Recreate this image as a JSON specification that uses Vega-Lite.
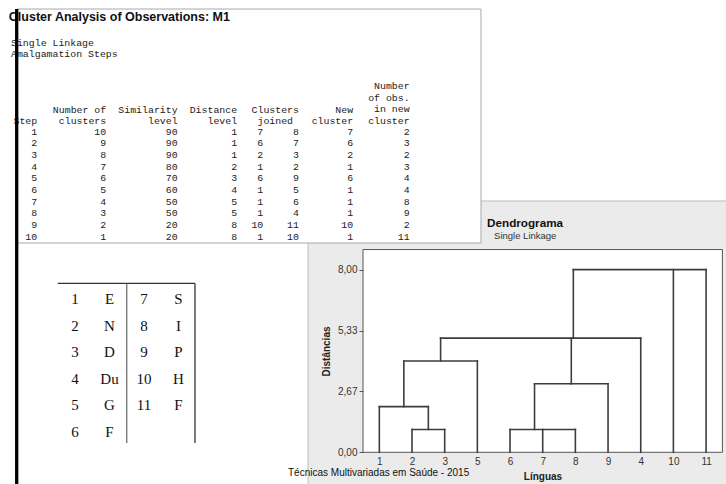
{
  "$schema": "https://vega.github.io/schema/vega-lite/v6.json",
  "width": 726,
  "height": 484,
  "autosize": {"type": "none"},
  "padding": 0,
  "background": "white",
  "config": {"view": {"stroke": null}},
  "data": {"values": [{}]},
  "datasets": {
    "steps": [
      {"step": 1, "ncl": 10, "sim": 90, "dist": 1, "j1": 7, "j2": 8, "newc": 7, "nobs": 2},
      {"step": 2, "ncl": 9, "sim": 90, "dist": 1, "j1": 6, "j2": 7, "newc": 6, "nobs": 3},
      {"step": 3, "ncl": 8, "sim": 90, "dist": 1, "j1": 2, "j2": 3, "newc": 2, "nobs": 2},
      {"step": 4, "ncl": 7, "sim": 80, "dist": 2, "j1": 1, "j2": 2, "newc": 1, "nobs": 3},
      {"step": 5, "ncl": 6, "sim": 70, "dist": 3, "j1": 6, "j2": 9, "newc": 6, "nobs": 4},
      {"step": 6, "ncl": 5, "sim": 60, "dist": 4, "j1": 1, "j2": 5, "newc": 1, "nobs": 4},
      {"step": 7, "ncl": 4, "sim": 50, "dist": 5, "j1": 1, "j2": 6, "newc": 1, "nobs": 8},
      {"step": 8, "ncl": 3, "sim": 50, "dist": 5, "j1": 1, "j2": 4, "newc": 1, "nobs": 9},
      {"step": 9, "ncl": 2, "sim": 20, "dist": 8, "j1": 10, "j2": 11, "newc": 10, "nobs": 2},
      {"step": 10, "ncl": 1, "sim": 20, "dist": 8, "j1": 1, "j2": 10, "newc": 1, "nobs": 11}
    ],
    "langs": [
      {"num": 1, "lang": "E", "row": 1, "side": "L"},
      {"num": 2, "lang": "N", "row": 2, "side": "L"},
      {"num": 3, "lang": "D", "row": 3, "side": "L"},
      {"num": 4, "lang": "Du", "row": 4, "side": "L"},
      {"num": 5, "lang": "G", "row": 5, "side": "L"},
      {"num": 6, "lang": "F", "row": 6, "side": "L"},
      {"num": 7, "lang": "S", "row": 1, "side": "R"},
      {"num": 8, "lang": "I", "row": 2, "side": "R"},
      {"num": 9, "lang": "P", "row": 3, "side": "R"},
      {"num": 10, "lang": "H", "row": 4, "side": "R"},
      {"num": 11, "lang": "F", "row": 5, "side": "R"}
    ],
    "links": [
      {"x1": 1, "x2": 1, "y1": 0, "y2": 2},
      {"x1": 2, "x2": 2, "y1": 0, "y2": 1},
      {"x1": 3, "x2": 3, "y1": 0, "y2": 1},
      {"x1": 2.5, "x2": 2.5, "y1": 1, "y2": 2},
      {"x1": 1.75, "x2": 1.75, "y1": 2, "y2": 4},
      {"x1": 4, "x2": 4, "y1": 0, "y2": 4},
      {"x1": 2.875, "x2": 2.875, "y1": 4, "y2": 5},
      {"x1": 5, "x2": 5, "y1": 0, "y2": 1},
      {"x1": 6, "x2": 6, "y1": 0, "y2": 1},
      {"x1": 7, "x2": 7, "y1": 0, "y2": 1},
      {"x1": 5.75, "x2": 5.75, "y1": 1, "y2": 3},
      {"x1": 8, "x2": 8, "y1": 0, "y2": 3},
      {"x1": 6.875, "x2": 6.875, "y1": 3, "y2": 5},
      {"x1": 9, "x2": 9, "y1": 0, "y2": 5},
      {"x1": 6.9375, "x2": 6.9375, "y1": 5, "y2": 8},
      {"x1": 10, "x2": 10, "y1": 0, "y2": 8},
      {"x1": 11, "x2": 11, "y1": 0, "y2": 8},
      {"x1": 2, "x2": 3, "y1": 1, "y2": 1},
      {"x1": 1, "x2": 2.5, "y1": 2, "y2": 2},
      {"x1": 1.75, "x2": 4, "y1": 4, "y2": 4},
      {"x1": 5, "x2": 7, "y1": 1, "y2": 1},
      {"x1": 5.75, "x2": 8, "y1": 3, "y2": 3},
      {"x1": 2.875, "x2": 9, "y1": 5, "y2": 5},
      {"x1": 6.9375, "x2": 11, "y1": 8, "y2": 8}
    ]
  },
  "layer": [
    {
      "mark": {"type": "rect", "fill": "#ebebeb", "stroke": "#bdbdbd", "strokeWidth": 1},
      "encoding": {
        "x": {
          "datum": -1.182, "type": "quantitative",
          "scale": {"domain": [-10.61, 11.61], "nice": false, "zero": false},
          "axis": {
            "orient": "bottom", "offset": -31.7, "values": [1, 2, 3, 4, 5, 6, 7, 8, 9, 10, 11],
            "labelExpr": "['', '1', '2', '3', '5', '6', '7', '8', '9', '4', '10', '11'][datum.value]",
            "domain": false, "ticks": false, "tickSize": 0, "grid": false,
            "labelPadding": 4, "labelFont": "Liberation Sans", "labelFontSize": 10, "labelColor": "#333",
            "labelFlush": false, "labelOverlap": false,
            "title": "Línguas", "titleFont": "Liberation Sans", "titleFontSize": 10, "titleFontWeight": "bold", "titleColor": "#222",
            "titleX": 542.5, "titleY": 24, "titleAlign": "center", "titleBaseline": "middle", "titlePadding": 0, "zindex": 1
          }
        },
        "x2": {"datum": 11.8},
        "y": {
          "datum": -1.6, "type": "quantitative",
          "scale": {"domain": [-1.389, 19.81], "nice": false, "zero": false},
          "axis": {
            "orient": "left", "offset": -363, "values": [0, 2.6667, 5.3333, 8],
            "labelExpr": "replace(format(datum.value, '.2f'), '.', ',')",
            "domain": false, "ticks": true, "tickSize": 4, "tickColor": "#555", "grid": false,
            "labelPadding": 2, "labelFont": "Liberation Sans", "labelFontSize": 10, "labelColor": "#333",
            "labelFlush": false, "labelOverlap": false,
            "title": "Distâncias", "titleFont": "Liberation Sans", "titleFontSize": 10, "titleFontWeight": "bold", "titleColor": "#222",
            "titleX": -36.5, "titleY": 351, "titleAngle": -90, "titleAlign": "center", "titleBaseline": "middle", "titlePadding": 0, "zindex": 1
          }
        },
        "y2": {"datum": 11.007}
      }
    },
    {
      "layer": [
        {
          "mark": {"type": "rect", "fill": "white", "stroke": "#a8a8a8", "strokeWidth": 1},
          "encoding": {
            "x": {"datum": 1.008, "type": "quantitative", "scale": {"domain": [-1.849, 120.168], "nice": false, "zero": false}, "axis": null},
            "x2": {"datum": 78.99},
            "y": {"datum": -9.51, "type": "quantitative", "scale": {"domain": [-10.283, 31.19], "nice": false, "zero": false, "reverse": true}, "axis": null},
            "y2": {"datum": 10.54}
          }
        },
        {
          "mark": {"type": "text", "align": "left", "baseline": "middle", "font": "Liberation Sans", "fontWeight": "bold", "fontSize": 12.5, "color": "#111"},
          "encoding": {
            "x": {"datum": -0.37, "type": "quantitative", "scale": {"domain": [-1.849, 120.168], "nice": false, "zero": false}, "axis": null},
            "y": {"datum": -8.85, "type": "quantitative", "scale": {"domain": [-10.283, 31.19], "nice": false, "zero": false, "reverse": true}, "axis": null},
            "text": {"value": "Cluster Analysis of Observations: M1"}
          }
        },
        {
          "mark": {"type": "text", "align": "left", "baseline": "middle", "font": "Liberation Mono", "fontSize": 9.9, "color": "#222", "lineHeight": 11.5},
          "encoding": {
            "x": {"datum": 0, "type": "quantitative", "scale": {"domain": [-1.849, 120.168], "nice": false, "zero": false}, "axis": null},
            "y": {"datum": -6.63, "type": "quantitative", "scale": {"domain": [-10.283, 31.19], "nice": false, "zero": false, "reverse": true}, "axis": null},
            "text": {"value": ["Single Linkage", "Amalgamation Steps"]}
          }
        },
        {
          "mark": {"type": "text", "align": "right", "baseline": "middle", "font": "Liberation Mono", "fontSize": 9.9, "color": "#222"},
          "encoding": {
            "x": {"datum": 4.4, "type": "quantitative", "scale": {"domain": [-1.849, 120.168], "nice": false, "zero": false}, "axis": null},
            "y": {"datum": 0.1, "type": "quantitative", "scale": {"domain": [-10.283, 31.19], "nice": false, "zero": false, "reverse": true}, "axis": null},
            "text": {"value": "Step"}
          }
        },
        {
          "mark": {"type": "text", "align": "right", "baseline": "middle", "font": "Liberation Mono", "fontSize": 9.9, "color": "#222", "lineHeight": 11.67},
          "encoding": {
            "x": {"datum": 16, "type": "quantitative", "scale": {"domain": [-1.849, 120.168], "nice": false, "zero": false}, "axis": null},
            "y": {"datum": -0.9, "type": "quantitative", "scale": {"domain": [-10.283, 31.19], "nice": false, "zero": false, "reverse": true}, "axis": null},
            "text": {"value": ["Number of", "clusters"]}
          }
        },
        {
          "mark": {"type": "text", "align": "right", "baseline": "middle", "font": "Liberation Mono", "fontSize": 9.9, "color": "#222", "lineHeight": 11.67},
          "encoding": {
            "x": {"datum": 28, "type": "quantitative", "scale": {"domain": [-1.849, 120.168], "nice": false, "zero": false}, "axis": null},
            "y": {"datum": -0.9, "type": "quantitative", "scale": {"domain": [-10.283, 31.19], "nice": false, "zero": false, "reverse": true}, "axis": null},
            "text": {"value": ["Similarity", "level"]}
          }
        },
        {
          "mark": {"type": "text", "align": "right", "baseline": "middle", "font": "Liberation Mono", "fontSize": 9.9, "color": "#222", "lineHeight": 11.67},
          "encoding": {
            "x": {"datum": 38, "type": "quantitative", "scale": {"domain": [-1.849, 120.168], "nice": false, "zero": false}, "axis": null},
            "y": {"datum": -0.9, "type": "quantitative", "scale": {"domain": [-10.283, 31.19], "nice": false, "zero": false, "reverse": true}, "axis": null},
            "text": {"value": ["Distance", "level"]}
          }
        },
        {
          "mark": {"type": "text", "align": "right", "baseline": "middle", "font": "Liberation Mono", "fontSize": 9.9, "color": "#222"},
          "encoding": {
            "x": {"datum": 48.4, "type": "quantitative", "scale": {"domain": [-1.849, 120.168], "nice": false, "zero": false}, "axis": null},
            "y": {"datum": -0.9, "type": "quantitative", "scale": {"domain": [-10.283, 31.19], "nice": false, "zero": false, "reverse": true}, "axis": null},
            "text": {"value": "Clusters"}
          }
        },
        {
          "mark": {"type": "text", "align": "right", "baseline": "middle", "font": "Liberation Mono", "fontSize": 9.9, "color": "#222"},
          "encoding": {
            "x": {"datum": 47.4, "type": "quantitative", "scale": {"domain": [-1.849, 120.168], "nice": false, "zero": false}, "axis": null},
            "y": {"datum": 0.1, "type": "quantitative", "scale": {"domain": [-10.283, 31.19], "nice": false, "zero": false, "reverse": true}, "axis": null},
            "text": {"value": "joined"}
          }
        },
        {
          "mark": {"type": "text", "align": "right", "baseline": "middle", "font": "Liberation Mono", "fontSize": 9.9, "color": "#222", "lineHeight": 11.67},
          "encoding": {
            "x": {"datum": 57.5, "type": "quantitative", "scale": {"domain": [-1.849, 120.168], "nice": false, "zero": false}, "axis": null},
            "y": {"datum": -0.9, "type": "quantitative", "scale": {"domain": [-10.283, 31.19], "nice": false, "zero": false, "reverse": true}, "axis": null},
            "text": {"value": ["New", "cluster"]}
          }
        },
        {
          "mark": {"type": "text", "align": "right", "baseline": "middle", "font": "Liberation Mono", "fontSize": 9.9, "color": "#222", "lineHeight": 11.67},
          "encoding": {
            "x": {"datum": 67, "type": "quantitative", "scale": {"domain": [-1.849, 120.168], "nice": false, "zero": false}, "axis": null},
            "y": {"datum": -2.9, "type": "quantitative", "scale": {"domain": [-10.283, 31.19], "nice": false, "zero": false, "reverse": true}, "axis": null},
            "text": {"value": ["Number", "of obs.", "in new", "cluster"]}
          }
        },
        {
          "data": {"name": "steps"},
          "mark": {"type": "text", "align": "right", "baseline": "middle", "font": "Liberation Mono", "fontSize": 9.9, "color": "#222"},
          "encoding": {
            "x": {"datum": 4.4, "type": "quantitative", "scale": {"domain": [-1.849, 120.168], "nice": false, "zero": false}, "axis": null},
            "y": {"field": "step", "type": "quantitative", "scale": {"domain": [-10.283, 31.19], "nice": false, "zero": false, "reverse": true}, "axis": null},
            "text": {"field": "step"}
          }
        },
        {
          "data": {"name": "steps"},
          "mark": {"type": "text", "align": "right", "baseline": "middle", "font": "Liberation Mono", "fontSize": 9.9, "color": "#222"},
          "encoding": {
            "x": {"datum": 16, "type": "quantitative", "scale": {"domain": [-1.849, 120.168], "nice": false, "zero": false}, "axis": null},
            "y": {"field": "step", "type": "quantitative", "scale": {"domain": [-10.283, 31.19], "nice": false, "zero": false, "reverse": true}, "axis": null},
            "text": {"field": "ncl"}
          }
        },
        {
          "data": {"name": "steps"},
          "mark": {"type": "text", "align": "right", "baseline": "middle", "font": "Liberation Mono", "fontSize": 9.9, "color": "#222"},
          "encoding": {
            "x": {"datum": 28, "type": "quantitative", "scale": {"domain": [-1.849, 120.168], "nice": false, "zero": false}, "axis": null},
            "y": {"field": "step", "type": "quantitative", "scale": {"domain": [-10.283, 31.19], "nice": false, "zero": false, "reverse": true}, "axis": null},
            "text": {"field": "sim"}
          }
        },
        {
          "data": {"name": "steps"},
          "mark": {"type": "text", "align": "right", "baseline": "middle", "font": "Liberation Mono", "fontSize": 9.9, "color": "#222"},
          "encoding": {
            "x": {"datum": 38, "type": "quantitative", "scale": {"domain": [-1.849, 120.168], "nice": false, "zero": false}, "axis": null},
            "y": {"field": "step", "type": "quantitative", "scale": {"domain": [-10.283, 31.19], "nice": false, "zero": false, "reverse": true}, "axis": null},
            "text": {"field": "dist"}
          }
        },
        {
          "data": {"name": "steps"},
          "mark": {"type": "text", "align": "right", "baseline": "middle", "font": "Liberation Mono", "fontSize": 9.9, "color": "#222"},
          "encoding": {
            "x": {"datum": 42.4, "type": "quantitative", "scale": {"domain": [-1.849, 120.168], "nice": false, "zero": false}, "axis": null},
            "y": {"field": "step", "type": "quantitative", "scale": {"domain": [-10.283, 31.19], "nice": false, "zero": false, "reverse": true}, "axis": null},
            "text": {"field": "j1"}
          }
        },
        {
          "data": {"name": "steps"},
          "mark": {"type": "text", "align": "right", "baseline": "middle", "font": "Liberation Mono", "fontSize": 9.9, "color": "#222"},
          "encoding": {
            "x": {"datum": 48.4, "type": "quantitative", "scale": {"domain": [-1.849, 120.168], "nice": false, "zero": false}, "axis": null},
            "y": {"field": "step", "type": "quantitative", "scale": {"domain": [-10.283, 31.19], "nice": false, "zero": false, "reverse": true}, "axis": null},
            "text": {"field": "j2"}
          }
        },
        {
          "data": {"name": "steps"},
          "mark": {"type": "text", "align": "right", "baseline": "middle", "font": "Liberation Mono", "fontSize": 9.9, "color": "#222"},
          "encoding": {
            "x": {"datum": 57.5, "type": "quantitative", "scale": {"domain": [-1.849, 120.168], "nice": false, "zero": false}, "axis": null},
            "y": {"field": "step", "type": "quantitative", "scale": {"domain": [-10.283, 31.19], "nice": false, "zero": false, "reverse": true}, "axis": null},
            "text": {"field": "newc"}
          }
        },
        {
          "data": {"name": "steps"},
          "mark": {"type": "text", "align": "right", "baseline": "middle", "font": "Liberation Mono", "fontSize": 9.9, "color": "#222"},
          "encoding": {
            "x": {"datum": 67, "type": "quantitative", "scale": {"domain": [-1.849, 120.168], "nice": false, "zero": false}, "axis": null},
            "y": {"field": "step", "type": "quantitative", "scale": {"domain": [-10.283, 31.19], "nice": false, "zero": false, "reverse": true}, "axis": null},
            "text": {"field": "nobs"}
          }
        },
        {
          "mark": {"type": "rule", "color": "black", "strokeWidth": 3.3},
          "encoding": {
            "x": {"datum": 0.958, "type": "quantitative", "scale": {"domain": [-1.849, 120.168], "nice": false, "zero": false}, "axis": null},
            "y": {"datum": -9.51, "type": "quantitative", "scale": {"domain": [-10.283, 31.19], "nice": false, "zero": false, "reverse": true}, "axis": null},
            "y2": {"datum": 31.5}
          }
        }
      ]
    },
    {
      "layer": [
        {
          "mark": {"type": "rule", "color": "#333", "strokeWidth": 1.2},
          "encoding": {
            "x": {"datum": 0.5, "type": "quantitative", "scale": {"domain": [-1.174, 19.87], "nice": false, "zero": false}, "axis": null},
            "x2": {"datum": 4.478},
            "y": {"datum": 0.4, "type": "quantitative", "scale": {"domain": [-10.294, 7.97], "nice": false, "zero": false, "reverse": true}, "axis": null}
          }
        },
        {
          "mark": {"type": "rule", "color": "#666", "strokeWidth": 1.2},
          "encoding": {
            "x": {"datum": 2.5, "type": "quantitative", "scale": {"domain": [-1.174, 19.87], "nice": false, "zero": false}, "axis": null},
            "y": {"datum": 0.4, "type": "quantitative", "scale": {"domain": [-10.294, 7.97], "nice": false, "zero": false, "reverse": true}, "axis": null},
            "y2": {"datum": 6.42}
          }
        },
        {
          "mark": {"type": "rule", "color": "#222", "strokeWidth": 1.2},
          "encoding": {
            "x": {"datum": 4.478, "type": "quantitative", "scale": {"domain": [-1.174, 19.87], "nice": false, "zero": false}, "axis": null},
            "y": {"datum": 0.4, "type": "quantitative", "scale": {"domain": [-10.294, 7.97], "nice": false, "zero": false, "reverse": true}, "axis": null},
            "y2": {"datum": 6.42}
          }
        },
        {
          "data": {"name": "langs"},
          "transform": [{"filter": "datum.side == 'L'"}],
          "mark": {"type": "text", "align": "center", "baseline": "middle", "font": "Liberation Serif", "fontSize": 15, "color": "#111"},
          "encoding": {
            "x": {"datum": 1, "type": "quantitative", "scale": {"domain": [-1.174, 19.87], "nice": false, "zero": false}, "axis": null},
            "y": {"field": "row", "type": "quantitative", "scale": {"domain": [-10.294, 7.97], "nice": false, "zero": false, "reverse": true}, "axis": null},
            "text": {"field": "num"}
          }
        },
        {
          "data": {"name": "langs"},
          "transform": [{"filter": "datum.side == 'L'"}],
          "mark": {"type": "text", "align": "center", "baseline": "middle", "font": "Liberation Serif", "fontSize": 15, "color": "#111"},
          "encoding": {
            "x": {"datum": 2, "type": "quantitative", "scale": {"domain": [-1.174, 19.87], "nice": false, "zero": false}, "axis": null},
            "y": {"field": "row", "type": "quantitative", "scale": {"domain": [-10.294, 7.97], "nice": false, "zero": false, "reverse": true}, "axis": null},
            "text": {"field": "lang"}
          }
        },
        {
          "data": {"name": "langs"},
          "transform": [{"filter": "datum.side == 'R'"}],
          "mark": {"type": "text", "align": "center", "baseline": "middle", "font": "Liberation Serif", "fontSize": 15, "color": "#111"},
          "encoding": {
            "x": {"datum": 3, "type": "quantitative", "scale": {"domain": [-1.174, 19.87], "nice": false, "zero": false}, "axis": null},
            "y": {"field": "row", "type": "quantitative", "scale": {"domain": [-10.294, 7.97], "nice": false, "zero": false, "reverse": true}, "axis": null},
            "text": {"field": "num"}
          }
        },
        {
          "data": {"name": "langs"},
          "transform": [{"filter": "datum.side == 'R'"}],
          "mark": {"type": "text", "align": "center", "baseline": "middle", "font": "Liberation Serif", "fontSize": 15, "color": "#111"},
          "encoding": {
            "x": {"datum": 4, "type": "quantitative", "scale": {"domain": [-1.174, 19.87], "nice": false, "zero": false}, "axis": null},
            "y": {"field": "row", "type": "quantitative", "scale": {"domain": [-10.294, 7.97], "nice": false, "zero": false, "reverse": true}, "axis": null},
            "text": {"field": "lang"}
          }
        }
      ]
    },
    {
      "mark": {"type": "text", "align": "left", "baseline": "middle", "font": "Liberation Sans", "fontWeight": "bold", "fontSize": 11.7, "color": "#111"},
      "encoding": {
        "x": {"datum": 4.297, "type": "quantitative", "scale": {"domain": [-10.61, 11.61], "nice": false, "zero": false}, "axis": null},
        "y": {"datum": 10.04, "type": "quantitative", "scale": {"domain": [-1.389, 19.81], "nice": false, "zero": false}, "axis": null},
        "text": {"value": "Dendrograma"}
      }
    },
    {
      "mark": {"type": "text", "align": "left", "baseline": "middle", "font": "Liberation Sans", "fontSize": 9.5, "color": "#333"},
      "encoding": {
        "x": {"datum": 4.511, "type": "quantitative", "scale": {"domain": [-10.61, 11.61], "nice": false, "zero": false}, "axis": null},
        "y": {"datum": 9.474, "type": "quantitative", "scale": {"domain": [-1.389, 19.81], "nice": false, "zero": false}, "axis": null},
        "text": {"value": "Single Linkage"}
      }
    },
    {
      "mark": {"type": "rect", "fill": "white", "stroke": "#555", "strokeWidth": 1},
      "encoding": {
        "x": {"datum": 0.5, "type": "quantitative", "scale": {"domain": [-10.61, 11.61], "nice": false, "zero": false}, "axis": null},
        "x2": {"datum": 11.5},
        "y": {"datum": 0, "type": "quantitative", "scale": {"domain": [-1.389, 19.81], "nice": false, "zero": false}, "axis": null},
        "y2": {"datum": 8.88}
      }
    },
    {
      "data": {"name": "links"},
      "mark": {"type": "rule", "color": "#3c3c3c", "strokeWidth": 1.6, "strokeCap": "square"},
      "encoding": {
        "x": {"field": "x1", "type": "quantitative", "scale": {"domain": [-10.61, 11.61], "nice": false, "zero": false}, "axis": null},
        "x2": {"field": "x2"},
        "y": {"field": "y1", "type": "quantitative", "scale": {"domain": [-1.389, 19.81], "nice": false, "zero": false}, "axis": null},
        "y2": {"field": "y2"}
      }
    },
    {
      "mark": {"type": "text", "align": "left", "baseline": "middle", "font": "Liberation Sans", "fontSize": 10, "color": "#111"},
      "encoding": {
        "x": {"datum": -1.795, "type": "quantitative", "scale": {"domain": [-10.61, 11.61], "nice": false, "zero": false}, "axis": null},
        "y": {"datum": -0.894, "type": "quantitative", "scale": {"domain": [-1.389, 19.81], "nice": false, "zero": false}, "axis": null},
        "text": {"value": "Técnicas Multivariadas em Saúde - 2015"}
      }
    }
  ],
  "resolve": {"scale": {"x": "independent", "y": "independent"}, "axis": {"x": "independent", "y": "independent"}}
}
